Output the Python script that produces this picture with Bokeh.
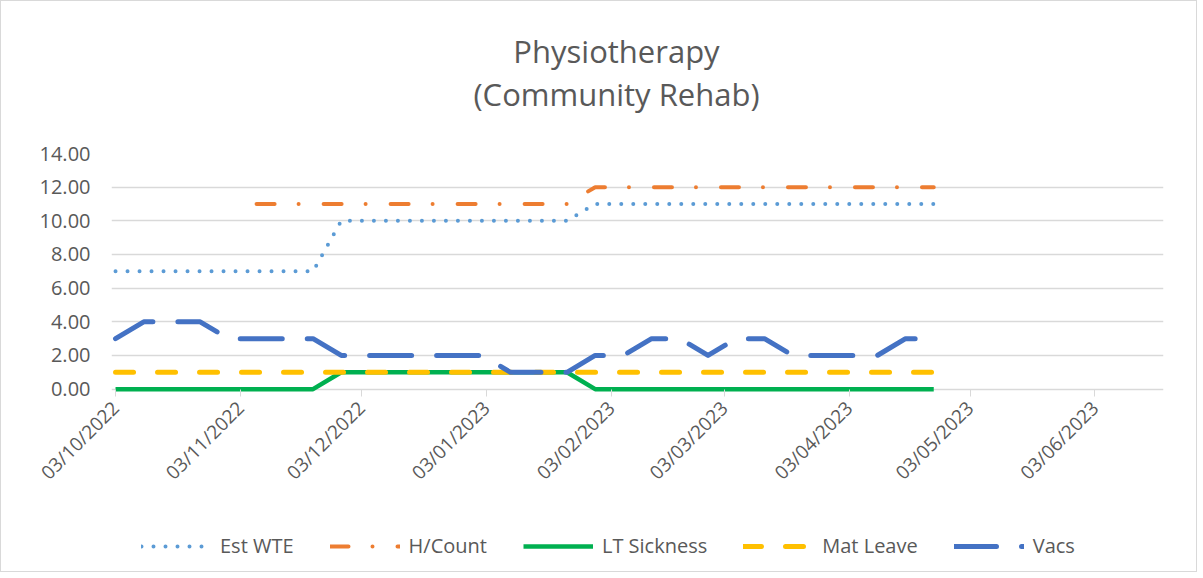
import math
import numpy as np
import pandas as pd
from bokeh.plotting import figure
from bokeh.layouts import column
from bokeh.core.properties import value
from bokeh.models import (Range1d, FixedTicker, DatetimeTickFormatter, NumeralTickFormatter,
                          Legend, LegendItem, ColumnDataSource)
from bokeh.embed import file_html
from bokeh.resources import INLINE

# ---- data (weekly) ----
dates = ["2022-10-03", "2022-10-10", "2022-10-17", "2022-10-24", "2022-10-31",
         "2022-11-07", "2022-11-14", "2022-11-21", "2022-11-28", "2022-12-05",
         "2022-12-12", "2022-12-19", "2022-12-26", "2023-01-02", "2023-01-09",
         "2023-01-16", "2023-01-23", "2023-01-30", "2023-02-06", "2023-02-13",
         "2023-02-20", "2023-02-27", "2023-03-06", "2023-03-13", "2023-03-20",
         "2023-03-27", "2023-04-03", "2023-04-10", "2023-04-17", "2023-04-24"]
est_wte = [7, 7, 7, 7, 7, 7, 7, 7, 10, 10, 10, 10, 10, 10, 10, 10, 10,
           11, 11, 11, 11, 11, 11, 11, 11, 11, 11, 11, 11, 11]
h_count = [None, None, None, None, None, 11, 11, 11, 11, 11, 11, 11, 11, 11, 11, 11, 11,
           12, 12, 12, 12, 12, 12, 12, 12, 12, 12, 12, 12, 12]
lt_sickness = [0, 0, 0, 0, 0, 0, 0, 0, 1, 1, 1, 1, 1, 1, 1, 1, 1,
               0, 0, 0, 0, 0, 0, 0, 0, 0, 0, 0, 0, 0]
mat_leave = [1, 1, 1, 1, 1, 1, 1, 1, 1, 1, 1, 1, 1, 1, 1, 1, 1,
             1, 1, 1, 1, 1, 1, 1, 1, 1, 1, 1, 1, 1]
vacs = [3, 4, 4, 4, 3, 3, 3, 3, 2, 2, 2, 2, 2, 2, 1, 1, 1,
        2, 2, 3, 3, 2, 3, 3, 2, 2, 2, 2, 3, 3]
series_names = ["Est WTE", "H/Count", "LT Sickness", "Mat Leave", "Vacs"]
tick_dates = ["2022-10-03", "2022-11-03", "2022-12-03", "2023-01-03", "2023-02-03",
              "2023-03-03", "2023-04-03", "2023-05-03", "2023-06-03"]
y_ticks = [0, 2, 4, 6, 8, 10, 12, 14]
title_lines = ["Physiotherapy", "(Community Rehab)"]

FONT = "Open Sans"
GREY = "#595959"
W = 1195
FRAME_L, FRAME_R = 110, 1162          # plot-area edges in page pixels
TITLE_H, CHART_H, LEGEND_H = 120, 380, 70

# series styles
styles = [
    dict(col="est", line_color="#5B9BD5", line_width=4, line_dash="0 12", line_cap="round"),
    dict(col="hc", line_color="#ED7D31", line_width=4, line_dash="18 24 0 25",
         line_cap="round", line_join="round"),
    dict(col="lt", line_color="#00B050", line_width=4.5, line_join="round"),
    dict(col="ml", line_color="#FFC000", line_width=5, line_dash="18 24", line_cap="round"),
    dict(col="vc", line_color="#4472C4", line_width=5, line_dash="42 25",
         line_cap="round", line_join="round"),
]

src = ColumnDataSource(dict(
    x=pd.to_datetime(dates),
    est=est_wte,
    hc=[np.nan if v is None else v for v in h_count],
    lt=lt_sickness,
    ml=mat_leave,
    vc=vacs,
))


def strip(height):
    f = figure(width=W, height=height, output_backend="svg", toolbar_location=None,
               x_axis_location=None, y_axis_location=None,
               x_range=Range1d(FRAME_L, FRAME_R), y_range=Range1d(0, height),
               min_border=0, min_border_left=0, min_border_right=0,
               min_border_top=0, min_border_bottom=0)
    f.grid.visible = False
    f.outline_line_color = None
    f.background_fill_color = "white"
    f.border_fill_color = "white"
    return f


# ---- title strip ----
t = strip(TITLE_H)
t.text(x=[615, 615], y=[71, 28], text=title_lines,
       text_font=value(FONT), text_font_size="31px", text_color=GREY,
       text_align="center", text_baseline="alphabetic")

# ---- chart ----
p = figure(width=W, height=CHART_H, x_axis_type="datetime",
           output_backend="svg", toolbar_location=None,
           x_range=Range1d(pd.Timestamp("2022-10-02"), pd.Timestamp("2023-06-20")),
           y_range=Range1d(-0.2, 14),
           min_border_left=FRAME_L, min_border_right=W - FRAME_R,
           min_border_top=32, min_border_bottom=109)
p.background_fill_color = "white"
p.border_fill_color = "white"
p.outline_line_color = None

tick_ms = [pd.Timestamp(d).value / 1e6 for d in tick_dates]
p.xaxis.ticker = FixedTicker(ticks=tick_ms)
fmt = "%d/%m/%Y"
p.xaxis.formatter = DatetimeTickFormatter(days=fmt, months=fmt, years=fmt,
                                          hours=fmt, hourmin=fmt, minutes=fmt)
p.xaxis.major_label_orientation = math.pi / 4
p.xaxis.axis_line_color = None
p.xaxis.major_tick_line_color = "#D9D9D9"
p.xaxis.major_tick_in = 3
p.xaxis.major_tick_out = 4
p.xaxis.minor_tick_line_color = None
p.xaxis.major_label_standoff = 8
p.xaxis.major_label_text_font = FONT
p.xaxis.major_label_text_font_size = "19px"
p.xaxis.major_label_text_color = GREY

p.yaxis.ticker = FixedTicker(ticks=y_ticks)
p.yaxis.formatter = NumeralTickFormatter(format="0.00")
p.yaxis.axis_line_color = None
p.yaxis.major_tick_line_color = None
p.yaxis.minor_tick_line_color = None
p.yaxis.major_label_standoff = 15
p.yaxis.major_label_text_font = FONT
p.yaxis.major_label_text_font_size = "20px"
p.yaxis.major_label_text_color = GREY

p.xgrid.visible = False
p.ygrid.ticker = FixedTicker(ticks=y_ticks)
p.ygrid.grid_line_color = "#D9D9D9"
p.ygrid.grid_line_width = 1.3

for st in styles:
    kw = {k: v for k, v in st.items() if k != "col"}
    p.line("x", st["col"], source=src, **kw)

# ---- legend strip (same series, drawn outside its view so only the keys show) ----
lg = strip(LEGEND_H)
lg.y_range = Range1d(-100, -99)
swatches = []
for st in styles:
    kw = {k: v for k, v in st.items() if k != "col"}
    swatches.append(lg.line("x", st["col"], source=src, **kw))

legend = Legend(items=[LegendItem(label=n, renderers=[r])
                       for n, r in zip(series_names, swatches)],
                orientation="horizontal", location=(30, 12),
                glyph_width=70, glyph_height=20, label_standoff=9, spacing=36,
                padding=0, margin=0, border_line_color=None,
                background_fill_alpha=0,
                label_text_font=FONT, label_text_font_size="20px",
                label_text_color=GREY)
lg.add_layout(legend, "center")

layout = column(t, p, lg, spacing=0)
layout.styles = {"border": "1px solid #D9D9D9"}

open("out.html", "w").write(file_html(layout, INLINE))
